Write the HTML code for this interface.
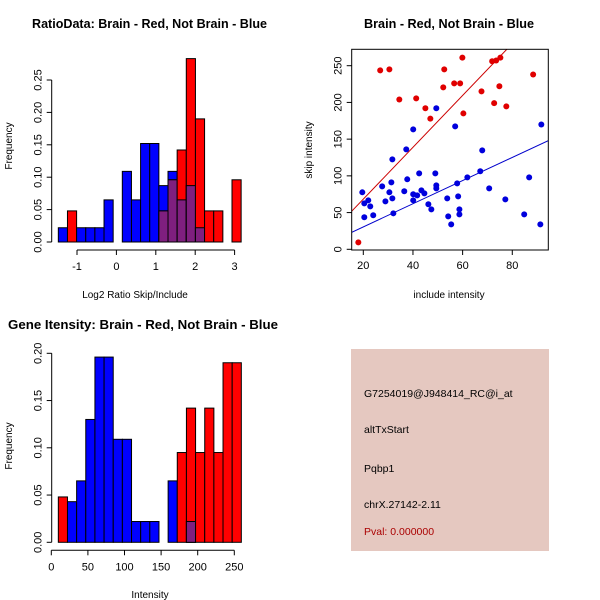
<!DOCTYPE html>
<html><head><meta charset="utf-8"><style>
html,body{margin:0;padding:0;background:#fff;}
svg{display:block;font-family:"Liberation Sans",sans-serif;}
</style></head><body>
<svg id="s" width="600" height="600" viewBox="0 0 600 600">
<rect width="600" height="600" fill="#fff"/>
</svg>
<script>
// ---- Ratio histogram data ----
const ratioBinStart = -1.474;
const ratioBinWidth = 0.232;
const ratioBlue = [0.022,0,0.022,0.022,0.022,0.065,0,0.109,0.065,0.152,0.152,0.087,0.109,0.065,0.087,0.022,0,0,0,0];
const ratioRed  = [0,0.048,0,0,0,0,0,0,0,0,0,0.048,0.096,0.142,0.283,0.19,0.048,0.048,0,0.096];
const ratioXTicks = [-1,0,1,2,3];
const ratioYTicks = ["0.00","0.05","0.10","0.15","0.20","0.25"];
// ---- Scatter data ----
const redX = [18,26.8,30.5,34.5,41.3,45,47,52.2,52.6,56.6,59,59.9,60.3,67.6,71.9,72.7,73.5,74.8,75.2,77.6,88.4];
const redY = [9.5,243.6,245,204,205.5,192,178,220.5,245,226,226,261,185,215,256,199,257,222,261,194.6,238];
const blueX = [19.6,20.4,20.4,22,22.8,24,27.6,28.9,30.5,31.3,31.7,31.7,32.1,36.5,37.3,37.7,40.1,40.1,40.1,41.7,42.5,43.4,44.6,46.2,47.4,49,49.4,49.4,49.4,53.8,54.2,55.4,57,57.8,58.2,58.7,58.7,61.9,67.1,67.9,70.7,77.2,84.8,86.8,91.3,91.7];
const blueY = [77.6,62.6,43.6,66.7,58.5,46.3,85.7,65.3,77.6,91.2,122.5,69.4,49,79,136,95.3,163.3,74.9,66.7,73.5,103.4,80.3,76.2,61.3,54.4,103.4,192,87.1,83,69.4,44.9,34,167.4,89.8,72.1,54.4,47.6,98,106.2,134.7,83,68,47.6,98,34,170];
const redFit = [-2.3,3.53];   // intercept, slope
const blueFit = [-1.0,1.576];
const scXTicks = [20,40,60,80];
const scYTicks = [0,50,100,150,200,250];
// ---- Intensity histogram data ----
const intBinStart = 9.6;
const intBinWidth = 12.5;
const intBlue = [0,0.043,0.065,0.13,0.196,0.196,0.109,0.109,0.022,0.022,0.022,0,0.065,0,0.022,0,0,0,0,0];
const intRed  = [0.048,0,0,0,0,0,0,0,0,0,0,0,0,0.095,0.142,0.095,0.142,0.095,0.19,0.19];
const intXTicks = [0,50,100,150,200,250];
const intYTicks = ["0.00","0.05","0.10","0.15","0.20"];

const svg = document.getElementById('s');
const NS = 'http://www.w3.org/2000/svg';
function mk(tag, attrs, parent){
  const e = document.createElementNS(NS, tag);
  for (const k in attrs) e.setAttribute(k, attrs[k]);
  (parent||svg).appendChild(e); return e;
}
function txt(x,y,s,opts,parent){
  const t = mk('text',Object.assign({x:x,y:y,'font-size':11,'text-anchor':'middle',fill:'#000'},opts||{}),parent);
  t.textContent = s; return t;
}
function histogram(name, cfg){
  const g = mk('g',{});
  
  
  const X = v => cfg.x0 + v*cfg.xs;
  const Y = v => cfg.y0 - v*cfg.ys;
  for (let i=0;i<cfg.blue.length;i++){
    const l = cfg.start + i*cfg.width, r = l + cfg.width;
    const b = cfg.blue[i], rd = cfg.red[i];
    const draw = (v,col,nm) => {
      if (v<=0) return;
      const e = mk('rect',{x:X(l),y:Y(v),width:X(r)-X(l),height:Y(0)-Y(v),fill:col,stroke:'#000','stroke-width':1},g);
      
      
    };
    draw(b,'#0000ff','bar-blue-'+i);
    draw(rd,'#ff0000','bar-red-'+i);
    if (b>0 && rd>0) draw(Math.min(b,rd),'#7f1f7f','bar-overlap-'+i);
  }
  const xa = mk('g',{},g);
   
  const tk = cfg.xticks;
  mk('line',{x1:X(tk[0]),x2:X(tk[tk.length-1]),y1:cfg.axY,y2:cfg.axY,stroke:'#000'},xa);
  tk.forEach(v=>{
    mk('line',{x1:X(v),x2:X(v),y1:cfg.axY,y2:cfg.axY+5,stroke:'#000'},xa);
    const t=txt(X(v),cfg.axY+20,String(v),{},xa);
     
  });
  const ya = mk('g',{},g);
   
  const yt = cfg.yticks;
  mk('line',{x1:cfg.axX,x2:cfg.axX,y1:Y(+yt[0]),y2:Y(+yt[yt.length-1]),stroke:'#000'},ya);
  yt.forEach(s=>{
    const v=+s;
    mk('line',{x1:cfg.axX,x2:cfg.axX-5,y1:Y(v),y2:Y(v),stroke:'#000'},ya);
    const t=txt(cfg.axX-10,Y(v),s,{transform:`rotate(-90 ${cfg.axX-10} ${Y(v)})`},ya);
     
  });
  return g;
}
histogram('ratio-histogram',{x0:116.4,xs:39.4,y0:242,ys:648,start:ratioBinStart,width:ratioBinWidth,
  blue:ratioBlue,red:ratioRed,xticks:ratioXTicks,yticks:ratioYTicks,axY:250,axX:51.7});
let t;
t=txt(32,28,'RatioData: Brain - Red, Not Brain - Blue',{'font-weight':'bold','font-size':12.5,'text-anchor':'start',textLength:235,lengthAdjust:'spacingAndGlyphs'});
 
t=txt(135,298,'Log2 Ratio Skip/Include',{'font-size':10});
 
t=txt(12,146,'Frequency',{'font-size':10,transform:'rotate(-90 12 146)'});
 

histogram('intensity-histogram',{x0:51.3,xs:0.732,y0:542.3,ys:945,start:intBinStart,width:intBinWidth,
  blue:intBlue,red:intRed,xticks:intXTicks,yticks:intYTicks,axY:550.3,axX:51.7});
t=txt(8,329,'Gene Itensity: Brain - Red, Not Brain - Blue',{'font-weight':'bold','font-size':13,'text-anchor':'start',textLength:270,lengthAdjust:'spacingAndGlyphs'});
 
t=txt(150,598,'Intensity',{'font-size':10});
 
t=txt(12,446,'Frequency',{'font-size':10,transform:'rotate(-90 12 446)'});
 

(function(){
  const g = mk('g',{});
   
  const L=351.7,R=548.3,T=49.3,B=250;
  const X = v => 363.3 + (v-20)*2.483;
  const Y = v => 249.3 - v*0.7344;
  const clip = mk('clipPath',{id:'sc'},g); mk('rect',{x:L,y:T,width:R-L,height:B-T},clip);
  const lines = mk('g',{'clip-path':'url(#sc)'},g);
  const fit = (f,col,nm)=>{
    const x1=10,x2=100;
    const e=mk('line',{x1:X(x1),y1:Y(f[0]+f[1]*x1),x2:X(x2),y2:Y(f[0]+f[1]*x2),stroke:col,'stroke-width':1},lines);
     
  };
  fit(redFit,'#cc0000','red-fit-line');
  fit(blueFit,'#0000cc','blue-fit-line');
  redX.forEach((x,i)=>{
    const c=mk('circle',{cx:X(x),cy:Y(redY[i]),r:3,fill:'#e00000'},g);
     
  });
  blueX.forEach((x,i)=>{
    const c=mk('circle',{cx:X(x),cy:Y(blueY[i]),r:3,fill:'#0000dd'},g);
     
  });
  mk('rect',{x:L,y:T,width:R-L,height:B-T,fill:'none',stroke:'#000'},g);
  scXTicks.forEach(v=>{
    mk('line',{x1:X(v),x2:X(v),y1:B,y2:B+5,stroke:'#000'},g);
    const t=txt(X(v),B+19,String(v),{},g);
     
  });
  scYTicks.forEach(v=>{
    mk('line',{x1:L,x2:L-5,y1:Y(v),y2:Y(v),stroke:'#000'},g);
    const t=txt(L-10,Y(v),String(v),{transform:`rotate(-90 ${L-10} ${Y(v)})`},g);
     
  });
})();
t=txt(364,28,'Brain - Red, Not Brain - Blue',{'font-weight':'bold','font-size':12.5,'text-anchor':'start',textLength:170,lengthAdjust:'spacingAndGlyphs'});
 
t=txt(449,298,'include intensity',{'font-size':10});
 
t=txt(312,150,'skip intensity',{'font-size':10,transform:'rotate(-90 312 150)'});
 

(function(){
  const g = mk('g',{});
   
  mk('rect',{x:351,y:349,width:198,height:202,fill:'#e5c8c0'},g);
  const lines=[['G7254019@J948414_RC@i_at',397,'#000','probe-id'],['altTxStart',433,'#000','event-type'],
    ['Pqbp1',472,'#000','gene-name'],['chrX.27142-2.11',508,'#000','location'],['Pval: 0.000000',535,'#aa0000','p-value']];
  lines.forEach(l=>{
    const t=txt(364,l[1],l[0],{'text-anchor':'start','font-size':10.5,fill:l[2]},g);
     
  });
})();
</script>
</body></html>
